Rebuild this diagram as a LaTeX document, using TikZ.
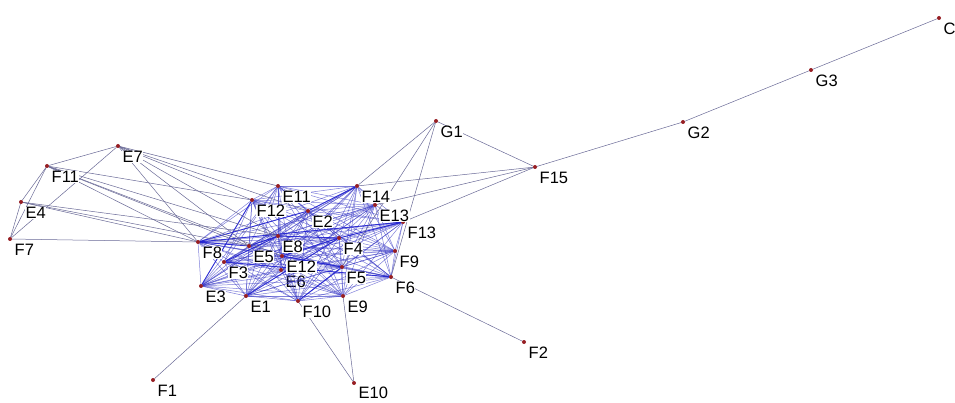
\documentclass[tikz,border=0pt]{standalone}
\usepackage{fontspec}
\setmainfont{Liberation Sans}
\usepackage{xcolor}
\definecolor{vertred}{RGB}{150,30,35}
\definecolor{linkgray}{RGB}{105,105,150}
\definecolor{meshblue}{RGB}{50,50,195}
\definecolor{boldblue}{RGB}{30,30,210}
\pgfdeclarelayer{edges}
\pgfsetlayers{edges,main}
\tikzset{
vert/.style = {circle, fill=vertred, minimum size=#1,
              inner sep=0pt, outer sep=0pt},
vert/.default = 4pt % size of the dot
}
\tikzset{
tag/.style = {anchor=west, fill=white, inner sep=0.5pt,
              font=\fontsize{16.5}{16.5}\selectfont}
}
\tikzset{
link/.style = {draw=linkgray, line width=0.5pt},
mesh/.style = {draw=meshblue, line width=0.5pt, draw opacity=0.62},
bold/.style = {draw=boldblue, line width=0.9pt, draw opacity=0.85}
}

\begin{document}
\begin{tikzpicture}[x=1pt, y=-1pt]
    \useasboundingbox (0,0) rectangle (955,403);
    % outer vertices
    \node[vert] (C) at (939,18) {};
    \node[vert] (G3) at (811,70) {};
    \node[vert] (G2) at (683,122) {};
    \node[vert] (G1) at (436,121) {};
    \node[vert] (F15) at (535,167) {};
    \node[vert] (E7) at (118,146) {};
    \node[vert] (F11) at (47,166) {};
    \node[vert] (E4) at (21,202) {};
    \node[vert] (F7) at (10,239) {};
    \node[vert] (F2) at (524,342) {};
    \node[vert] (F1) at (153,380) {};
    \node[vert] (E10) at (354,383) {};
    % core
    \node[vert] (F8) at (198,242) {};
    \node[vert] (E11) at (278,186) {};
    \node[vert] (F14) at (357,186) {};
    \node[vert] (F12) at (252,200) {};
    \node[vert] (E2) at (308,211) {};
    \node[vert] (E13) at (375,205) {};
    \node[vert] (F13) at (403,222) {};
    \node[vert] (E8) at (278,236) {};
    \node[vert] (F4) at (339,238) {};
    \node[vert] (F9) at (395,251) {};
    \node[vert] (E5) at (249,246) {};
    \node[vert] (E12) at (282,256) {};
    \node[vert] (F3) at (224,262) {};
    \node[vert] (E6) at (281,270) {};
    \node[vert] (F5) at (342,267) {};
    \node[vert] (F6) at (391,277) {};
    \node[vert] (E3) at (201,286) {};
    \node[vert] (E1) at (246,296) {};
    \node[vert] (F10) at (298,301) {};
    \node[vert] (E9) at (343,296) {};

    \begin{pgfonlayer}{edges}
    \node[tag] (E6-tag) at ([shift={(4,12)}]E6.center) {E6};
    \foreach \a [count=\i] in {F8,E11,F14,F12,E2,E13,F13,E8,F4,F9,E5,E12,F3,E6,F5,F6,E3,E1,F10,E9}
      \foreach \b [count=\j] in {F8,E11,F14,F12,E2,E13,F13,E8,F4,F9,E5,E12,F3,E6,F5,F6,E3,E1,F10,E9}
        {\ifnum\j>\i \draw[mesh] (\a) -- (\b);\fi}
    \foreach \a/\b in {F8/E2,F3/E8,E5/E8,E12/F5,E8/F4,F4/F13,E12/F4,E2/F14,F8/E5,F3/F6,
                       F8/F13,E3/F12,E1/F4,F10/F5}
      \draw[bold] (\a) -- (\b);
    \foreach \a/\b in {C/G3,G3/G2,G2/F15,G1/F15,G1/F14,G1/F5,G1/F6,
                       F15/F14,F15/E13,F15/F13,F6/F2,E1/F1,F10/E10,E9/E10,
                       E7/F11,E7/F7,F11/E4,F11/F7,E4/F7,F7/F8,
                       E7/E11,E7/F12,E7/E2,E7/E8,E7/E5,E7/F8,
                       F11/F12,F11/F8,F11/E5,F11/E8,F11/E12,
                       E4/F8,E4/E5,E4/E8}
      \draw[link] (\a) -- (\b);
    \end{pgfonlayer}

    % names
    \foreach \n in {C,G3,G2,G1,F15,E7,F11,E4,F7,F2,F1,
                    F8,E11,F14,F12,E2,E13,F13,E8,F4,F9,E5,E12,F3,F5,F6,E3,E1,F10,E9}
      \node[tag] (\n-tag) at ([shift={(4,11)}]\n.center) {\n};
    \node[tag] (E10-tag) at ([shift={(4,10)}]E10.center) {E10};
\end{tikzpicture}
\end{document}
